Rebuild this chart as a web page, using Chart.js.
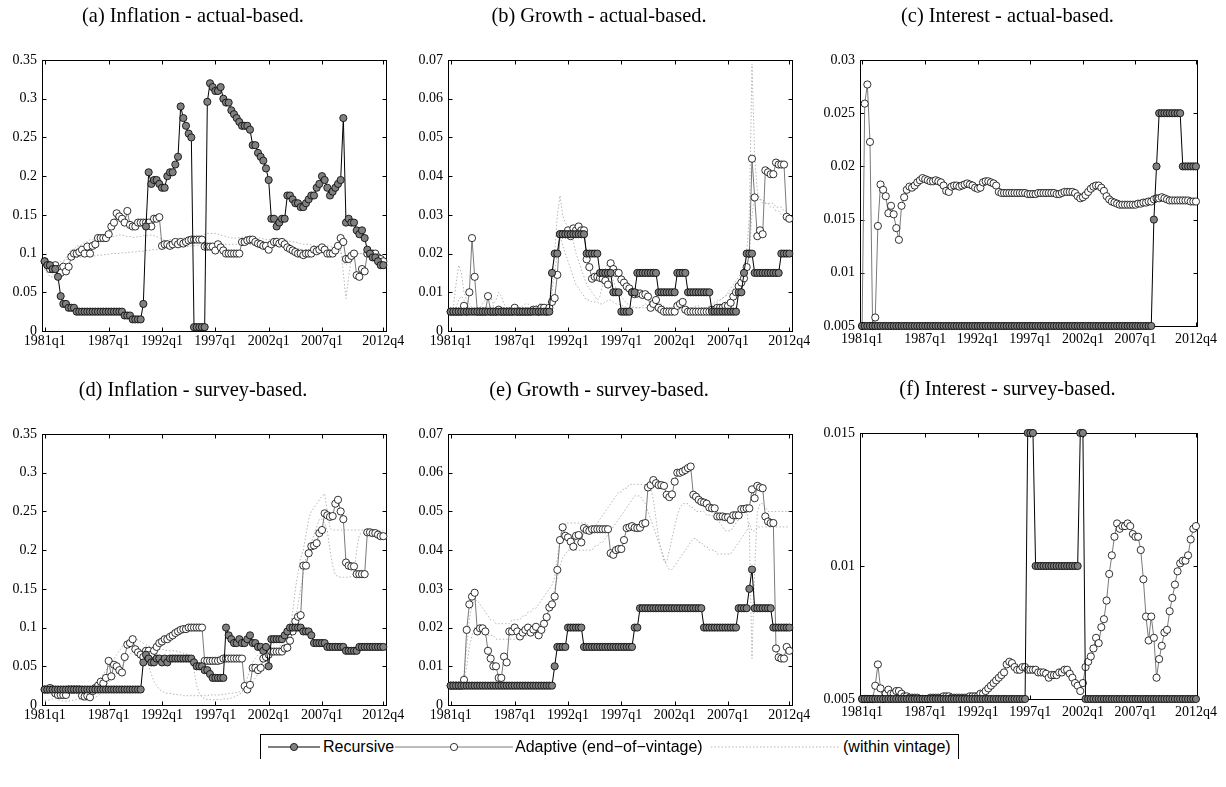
<!DOCTYPE html>
<html>
<head>
<meta charset="utf-8">
<script src="https://cdn.jsdelivr.net/npm/chart.js@4.4.1/dist/chart.umd.min.js"></script>
<style>
  body { margin: 0; background: #fff; width: 1226px; height: 787px; overflow: hidden; position: relative; }
  canvas { position: absolute; }
  #legend { position: absolute; left: 260px; top: 734px; width: 697px; height: 24px;
            border: 1px solid #000; border-bottom: none; font-family: "Liberation Sans", Arial, sans-serif; font-size: 16px; }
  #legend svg, #legend span { position: absolute; }
  #legend svg { top: 2px; }
  #legend span { top: 3px; white-space: nowrap; }
</style>
</head>
<body>
<canvas id="pa"></canvas><canvas id="pb"></canvas><canvas id="pc"></canvas>
<canvas id="pd"></canvas><canvas id="pe"></canvas><canvas id="pf"></canvas>

<div id="legend">
  <svg style="left:7px" width="52" height="20"><line x1="0" y1="10" x2="52" y2="10" stroke="#000"/><circle cx="26" cy="10" r="3.6" fill="#808080" stroke="#000" stroke-width="0.8"/></svg>
  <span style="left:62px">Recursive</span>
  <svg style="left:134px" width="118" height="20"><line x1="0" y1="10" x2="118" y2="10" stroke="#7a7a7a"/><circle cx="59" cy="10" r="3.6" fill="#fff" stroke="#000" stroke-width="0.8"/></svg>
  <span style="left:254px">Adaptive (end&minus;of&minus;vintage)</span>
  <svg style="left:450px" width="128" height="20"><line x1="0" y1="10" x2="128" y2="10" stroke="#b5b5b5" stroke-dasharray="1.5 2"/></svg>
  <span style="left:582px">(within vintage)</span>
</div>

<script>
// quarters 1981q1 .. 2012q4 -> index 0..127
const quarterTicks = [0, 24, 44, 64, 84, 104, 127];
const quarterLabels = ['1981q1', '1987q1', '1992q1', '1997q1', '2002q1', '2007q1', '2012q4'];

const inflTicks = [0, 0.05, 0.1, 0.15, 0.2, 0.25, 0.3, 0.35];
const inflTickLabels = ['0', '0.05', '0.1', '0.15', '0.2', '0.25', '0.3', '0.35'];
const growTicks = [0, 0.01, 0.02, 0.03, 0.04, 0.05, 0.06, 0.07];
const growTickLabels = ['0', '0.01', '0.02', '0.03', '0.04', '0.05', '0.06', '0.07'];
const intActTicks = [0.005, 0.01, 0.015, 0.02, 0.025, 0.03];
const intActTickLabels = ['0.005', '0.01', '0.015', '0.02', '0.025', '0.03'];
const intSurTicks = [0.005, 0.01, 0.015];
const intSurTickLabels = ['0.005', '0.01', '0.015'];

// (a) Inflation - actual-based
const inflActRec = [
  0.09,0.085,0.085,0.08,0.08,0.07,0.045,0.035,0.035,0.03,0.03,0.03,0.025,0.025,0.025,0.025,
  0.025,0.025,0.025,0.025,0.025,0.025,0.025,0.025,0.025,0.025,0.025,0.025,0.025,0.025,0.02,0.02,
  0.02,0.015,0.015,0.015,0.015,0.035,0.135,0.205,0.19,0.195,0.195,0.19,0.185,0.185,0.2,0.205,
  0.205,0.215,0.225,0.29,0.275,0.265,0.255,0.25,0.005,0.005,0.005,0.005,0.005,0.296,0.32,0.315,
  0.31,0.31,0.315,0.3,0.295,0.295,0.285,0.28,0.275,0.27,0.265,0.265,0.265,0.26,0.24,0.24,
  0.23,0.225,0.22,0.21,0.195,0.145,0.145,0.135,0.14,0.145,0.145,0.175,0.175,0.17,0.165,0.165,
  0.16,0.16,0.165,0.17,0.175,0.175,0.185,0.19,0.2,0.195,0.185,0.175,0.18,0.185,0.19,0.195,
  0.275,0.14,0.145,0.14,0.14,0.13,0.125,0.13,0.12,0.105,0.1,0.095,0.095,0.09,0.085,0.085];
const inflActAda = [
  0.09,0.085,0.08,0.08,0.085,0.08,0.075,0.083,0.077,0.083,0.096,0.1,0.1,0.102,0.105,0.1,
  0.109,0.1,0.11,0.112,0.12,0.12,0.12,0.12,0.125,0.135,0.14,0.152,0.148,0.145,0.14,0.155,
  0.137,0.135,0.135,0.14,0.14,0.14,0.14,0.14,0.135,0.145,0.145,0.147,0.11,0.112,0.112,0.11,
  0.112,0.115,0.112,0.115,0.113,0.115,0.117,0.118,0.118,0.118,0.118,0.118,0.109,0.109,0.109,0.109,
  0.104,0.112,0.108,0.104,0.1,0.1,0.1,0.1,0.1,0.1,0.115,0.115,0.117,0.118,0.118,0.115,
  0.113,0.112,0.11,0.11,0.105,0.112,0.115,0.115,0.113,0.115,0.112,0.108,0.106,0.104,0.102,0.1,
  0.1,0.098,0.1,0.1,0.1,0.105,0.103,0.105,0.108,0.105,0.1,0.1,0.1,0.104,0.11,0.12,
  0.115,0.093,0.093,0.097,0.1,0.072,0.07,0.08,0.077,0.1,0.1,0.1,0.1,0.095,0.093,0.09];
const inflActWin1 = [
  0.08,0.075,0.07,0.07,0.075,0.08,0.085,0.09,0.095,0.1,0.105,0.105,0.11,0.11,0.112,0.115,
  0.115,0.118,0.118,0.12,0.12,0.121,0.122,0.122,0.123,0.122,0.122,0.123,0.124,0.124,0.123,0.122,
  0.122,0.121,0.121,0.122,0.122,0.123,0.123,0.124,0.124,0.123,0.122,0.12,0.118,0.117,0.117,0.118,
  0.118,0.118,0.119,0.119,0.12,0.12,0.12,0.121,0.121,0.122,0.123,0.124,0.125,0.126,0.126,0.126,
  0.126,0.125,0.124,0.123,0.122,0.121,0.12,0.12,0.12,0.121,0.121,0.122,0.122,0.121,0.12,0.12,
  0.12,0.12,0.119,0.118,0.118,0.119,0.12,0.12,0.12,0.119,0.118,0.117,0.116,0.115,0.115,0.114,
  0.113,0.112,0.112,0.112,0.111,0.11,0.11,0.11,0.11,0.11,0.11,0.11,0.108,0.108,0.107,0.105,
  0.075,0.042,0.07,0.095,0.1,0.1,0.1,0.1,0.098,0.098,0.097,0.096,0.096,0.095,0.095,0.094];
const inflActWin2 = [
  0.085,0.08,0.075,0.08,0.085,0.088,0.09,0.09,0.092,0.093,0.094,0.095,0.095,0.095,0.096,0.096,
  0.097,0.097,0.097,0.097,0.098,0.098,0.098,0.099,0.099,0.1,0.1,0.1,0.1,0.101,0.101,0.101,
  0.102,0.102,0.102,0.103,0.103,0.103,0.104,0.104,0.105,0.105,0.105,0.106,0.106,0.106,0.107,0.107,
  0.107,0.108,0.108,0.108,0.109,0.109,0.109,0.11,0.11,0.11,0.111,0.111,0.111,0.112,0.112,0.112,
  0.112,0.112,0.112,0.112,0.112,0.112,0.112,0.112,0.112,0.112,0.112,0.112,0.112,0.112,0.111,0.111,
  0.111,0.111,0.11,0.11,0.11,0.11,0.11,0.11,0.11,0.109,0.109,0.108,0.108,0.107,0.107,0.106,
  0.106,0.105,0.105,0.105,0.104,0.104,0.104,0.104,0.104,0.104,0.105,0.105,0.105,0.105,0.105,0.104,
  0.09,0.085,0.09,0.095,0.1,0.1,0.1,0.1,0.097,0.097,0.096,0.095,0.094,0.093,0.092,0.092];

// (b) Growth - actual-based
const growActRec = [
  0.005,0.005,0.005,0.005,0.005,0.005,0.005,0.005,0.005,0.005,0.005,0.005,0.005,0.005,0.005,0.005,
  0.005,0.005,0.005,0.005,0.005,0.005,0.005,0.005,0.005,0.005,0.005,0.005,0.005,0.005,0.005,0.005,
  0.005,0.005,0.005,0.005,0.005,0.005,0.015,0.02,0.02,0.025,0.025,0.025,0.025,0.025,0.025,0.025,
  0.025,0.025,0.025,0.02,0.02,0.02,0.02,0.02,0.015,0.015,0.015,0.015,0.015,0.01,0.01,0.01,
  0.005,0.005,0.005,0.005,0.01,0.01,0.015,0.015,0.015,0.015,0.015,0.015,0.015,0.015,0.01,0.01,
  0.01,0.01,0.01,0.01,0.01,0.015,0.015,0.015,0.015,0.01,0.01,0.01,0.01,0.01,0.01,0.01,
  0.01,0.01,0.005,0.005,0.005,0.005,0.005,0.005,0.005,0.005,0.005,0.005,0.01,0.01,0.015,0.02,
  0.02,0.02,0.015,0.015,0.015,0.015,0.015,0.015,0.015,0.015,0.015,0.015,0.02,0.02,0.02,0.02];
const growActAda = [
  0.005,0.005,0.005,0.005,0.005,0.0065,0.005,0.01,0.024,0.014,0.005,0.005,0.005,0.005,0.009,0.005,
  0.005,0.005,0.0055,0.005,0.005,0.005,0.005,0.005,0.006,0.005,0.005,0.005,0.005,0.005,0.005,0.0055,
  0.0055,0.005,0.006,0.006,0.005,0.006,0.0075,0.0085,0.0145,0.025,0.025,0.025,0.026,0.0245,0.0265,0.026,
  0.027,0.026,0.026,0.0185,0.0165,0.0135,0.014,0.014,0.0137,0.0135,0.013,0.012,0.0175,0.016,0.015,0.015,
  0.0133,0.0125,0.0115,0.011,0.01,0.0095,0.0097,0.0097,0.0093,0.0095,0.0089,0.006,0.007,0.008,0.006,0.0055,
  0.005,0.005,0.005,0.005,0.005,0.0065,0.007,0.0075,0.0055,0.005,0.005,0.005,0.005,0.005,0.005,0.005,
  0.005,0.005,0.0055,0.0055,0.006,0.006,0.006,0.0065,0.0065,0.0073,0.0089,0.01,0.0116,0.0125,0.0136,0.0165,
  0.02,0.0445,0.0345,0.0245,0.026,0.025,0.0415,0.041,0.0405,0.0405,0.0435,0.043,0.043,0.043,0.0295,0.029];
const growActWin1 = [
  0.005,0.006,0.012,0.017,0.015,0.01,0.008,0.007,0.006,0.006,0.006,0.006,0.007,0.008,0.01,0.009,
  0.007,0.008,0.01,0.009,0.007,0.006,0.006,0.006,0.0065,0.006,0.006,0.0065,0.007,0.007,0.0065,0.006,
  0.0065,0.007,0.007,0.0065,0.007,0.008,0.012,0.02,0.03,0.035,0.03,0.028,0.027,0.025,0.023,0.02,
  0.018,0.016,0.014,0.012,0.011,0.01,0.009,0.008,0.009,0.012,0.016,0.018,0.016,0.013,0.011,0.01,
  0.009,0.008,0.007,0.007,0.0065,0.006,0.006,0.006,0.0065,0.007,0.0065,0.006,0.006,0.0065,0.007,0.007,
  0.0065,0.006,0.006,0.006,0.0065,0.007,0.007,0.0065,0.006,0.006,0.006,0.006,0.0065,0.0065,0.006,0.006,
  0.006,0.006,0.0065,0.007,0.0075,0.008,0.0085,0.009,0.01,0.011,0.012,0.013,0.014,0.015,0.017,0.02,
  0.03,0.069,0.045,0.036,0.034,0.034,0.033,0.033,0.033,0.033,0.032,0.032,0.032,0.031,0.031,0.03];
const growActWin2 = [
  0.005,0.005,0.006,0.008,0.009,0.008,0.007,0.006,0.0055,0.0055,0.0055,0.006,0.006,0.006,0.0065,0.0065,
  0.0065,0.006,0.006,0.006,0.006,0.0055,0.0055,0.0055,0.0055,0.0055,0.0055,0.006,0.006,0.006,0.006,0.006,
  0.006,0.006,0.006,0.006,0.0065,0.007,0.01,0.015,0.02,0.025,0.022,0.02,0.018,0.016,0.014,0.012,
  0.011,0.01,0.009,0.008,0.008,0.0075,0.0075,0.0075,0.007,0.007,0.0075,0.008,0.008,0.0075,0.007,0.007,
  0.0065,0.0065,0.006,0.006,0.006,0.006,0.006,0.006,0.006,0.006,0.006,0.006,0.006,0.006,0.006,0.006,
  0.006,0.006,0.006,0.006,0.006,0.006,0.006,0.006,0.006,0.006,0.006,0.006,0.006,0.006,0.006,0.006,
  0.006,0.0065,0.007,0.0075,0.008,0.008,0.0085,0.009,0.0095,0.01,0.011,0.012,0.013,0.014,0.015,0.016,
  0.02,0.03,0.035,0.034,0.034,0.033,0.033,0.033,0.032,0.032,0.031,0.031,0.03,0.03,0.03,0.03];

// (c) Interest - actual-based
const intActRec = [
  0.005,0.005,0.005,0.005,0.005,0.005,0.005,0.005,0.005,0.005,0.005,0.005,0.005,0.005,0.005,0.005,
  0.005,0.005,0.005,0.005,0.005,0.005,0.005,0.005,0.005,0.005,0.005,0.005,0.005,0.005,0.005,0.005,
  0.005,0.005,0.005,0.005,0.005,0.005,0.005,0.005,0.005,0.005,0.005,0.005,0.005,0.005,0.005,0.005,
  0.005,0.005,0.005,0.005,0.005,0.005,0.005,0.005,0.005,0.005,0.005,0.005,0.005,0.005,0.005,0.005,
  0.005,0.005,0.005,0.005,0.005,0.005,0.005,0.005,0.005,0.005,0.005,0.005,0.005,0.005,0.005,0.005,
  0.005,0.005,0.005,0.005,0.005,0.005,0.005,0.005,0.005,0.005,0.005,0.005,0.005,0.005,0.005,0.005,
  0.005,0.005,0.005,0.005,0.005,0.005,0.005,0.005,0.005,0.005,0.005,0.005,0.005,0.005,0.005,0.015,
  0.02,0.025,0.025,0.025,0.025,0.025,0.025,0.025,0.025,0.025,0.02,0.02,0.02,0.02,0.02,0.02];
const intActAda = [
  0.005,0.0259,0.0277,0.0223,0.005,0.0058,0.0144,0.0183,0.0178,0.0172,0.0156,0.0163,0.0155,0.0142,0.0131,0.0163,
  0.0171,0.0178,0.0181,0.018,0.0182,0.0185,0.0187,0.0189,0.0188,0.0187,0.0186,0.0186,0.0187,0.0186,0.0185,0.0182,
  0.0177,0.0176,0.0181,0.0182,0.0182,0.0181,0.0182,0.0183,0.0184,0.0183,0.0182,0.018,0.0179,0.018,0.0185,0.0186,
  0.0186,0.0185,0.0184,0.0182,0.0176,0.0175,0.0175,0.0175,0.0175,0.0175,0.0175,0.0175,0.0175,0.0175,0.0175,0.0174,
  0.0174,0.0174,0.0174,0.0175,0.0175,0.0175,0.0175,0.0175,0.0175,0.0175,0.0174,0.0174,0.0175,0.0176,0.0176,0.0176,
  0.0176,0.0175,0.0172,0.017,0.0171,0.0173,0.0176,0.0179,0.0181,0.0182,0.0182,0.018,0.0177,0.0172,0.0169,0.0167,
  0.0166,0.0165,0.0164,0.0164,0.0164,0.0164,0.0164,0.0164,0.0164,0.0165,0.0165,0.0166,0.0166,0.0167,0.0167,0.0169,
  0.017,0.017,0.0171,0.017,0.0169,0.0168,0.0168,0.0168,0.0168,0.0168,0.0168,0.0168,0.0168,0.0167,0.0167,0.0167];

// (d) Inflation - survey-based
const inflSurRec = [
  0.02,0.02,0.02,0.02,0.02,0.02,0.02,0.02,0.02,0.02,0.02,0.02,0.02,0.02,0.02,0.02,
  0.02,0.02,0.02,0.02,0.02,0.02,0.02,0.02,0.02,0.02,0.02,0.02,0.02,0.02,0.02,0.02,
  0.02,0.02,0.02,0.02,0.02,0.055,0.065,0.06,0.055,0.055,0.06,0.06,0.055,0.06,0.055,0.06,
  0.06,0.06,0.06,0.06,0.06,0.06,0.06,0.06,0.055,0.05,0.05,0.05,0.045,0.045,0.04,0.035,
  0.035,0.035,0.035,0.035,0.1,0.09,0.085,0.08,0.08,0.085,0.08,0.08,0.085,0.09,0.08,0.08,
  0.075,0.075,0.07,0.075,0.05,0.085,0.085,0.085,0.085,0.085,0.09,0.095,0.1,0.1,0.1,0.1,
  0.1,0.095,0.095,0.095,0.09,0.08,0.08,0.08,0.08,0.08,0.075,0.075,0.075,0.075,0.075,0.075,
  0.075,0.07,0.07,0.07,0.07,0.07,0.075,0.075,0.075,0.075,0.075,0.075,0.075,0.075,0.075,0.075];
const inflSurAda = [
  0.02,0.02,0.022,0.02,0.015,0.013,0.013,0.013,0.013,0.02,0.02,0.02,0.02,0.02,0.012,0.011,
  0.012,0.01,0.018,0.022,0.025,0.03,0.028,0.035,0.057,0.037,0.052,0.05,0.045,0.042,0.062,0.078,
  0.08,0.085,0.072,0.068,0.065,0.062,0.07,0.07,0.065,0.07,0.075,0.08,0.082,0.085,0.085,0.088,
  0.09,0.093,0.095,0.097,0.098,0.098,0.1,0.1,0.1,0.1,0.1,0.1,0.057,0.057,0.057,0.057,
  0.057,0.057,0.058,0.06,0.06,0.06,0.06,0.06,0.06,0.06,0.06,0.0245,0.02,0.026,0.048,0.048,
  0.045,0.048,0.06,0.062,0.065,0.069,0.069,0.069,0.069,0.069,0.073,0.074,0.083,0.095,0.108,0.114,
  0.116,0.18,0.18,0.196,0.205,0.206,0.209,0.222,0.226,0.2475,0.245,0.243,0.244,0.26,0.265,0.25,
  0.24,0.184,0.18,0.179,0.179,0.169,0.169,0.169,0.169,0.223,0.223,0.222,0.222,0.22,0.218,0.218];
const inflSurWin1 = [
  0.015,0.015,0.014,0.013,0.012,0.012,0.012,0.013,0.014,0.015,0.015,0.015,0.016,0.016,0.015,0.015,
  0.016,0.018,0.02,0.025,0.03,0.035,0.04,0.045,0.05,0.055,0.06,0.065,0.07,0.075,0.08,0.082,
  0.084,0.085,0.085,0.084,0.082,0.08,0.078,0.076,0.075,0.074,0.073,0.072,0.072,0.071,0.07,0.07,
  0.07,0.07,0.069,0.068,0.067,0.066,0.065,0.06,0.045,0.025,0.015,0.01,0.008,0.007,0.007,0.007,
  0.007,0.007,0.007,0.008,0.008,0.008,0.009,0.01,0.012,0.014,0.016,0.025,0.035,0.045,0.055,0.06,
  0.065,0.068,0.07,0.072,0.075,0.078,0.08,0.083,0.086,0.09,0.093,0.096,0.1,0.12,0.15,0.17,
  0.19,0.2,0.22,0.24,0.25,0.255,0.26,0.265,0.27,0.273,0.25,0.228,0.226,0.226,0.226,0.226,
  0.226,0.226,0.226,0.226,0.226,0.226,0.226,0.226,0.225,0.225,0.225,0.225,0.225,0.225,0.225,0.225];
const inflSurWin2 = [
  0.006,0.006,0.007,0.008,0.008,0.007,0.006,0.005,0.005,0.005,0.006,0.006,0.007,0.007,0.006,0.006,
  0.006,0.007,0.008,0.01,0.012,0.015,0.02,0.025,0.03,0.032,0.035,0.04,0.045,0.05,0.055,0.06,
  0.065,0.07,0.072,0.07,0.068,0.065,0.06,0.05,0.04,0.03,0.025,0.02,0.018,0.016,0.015,0.015,
  0.014,0.014,0.013,0.013,0.012,0.012,0.012,0.012,0.012,0.012,0.012,0.012,0.012,0.012,0.013,0.013,
  0.013,0.013,0.013,0.014,0.014,0.015,0.015,0.016,0.016,0.017,0.018,0.02,0.022,0.025,0.03,0.035,
  0.04,0.045,0.05,0.055,0.06,0.065,0.068,0.07,0.075,0.08,0.085,0.09,0.095,0.1,0.11,0.13,
  0.15,0.17,0.19,0.2,0.21,0.22,0.23,0.24,0.24,0.235,0.225,0.2,0.18,0.168,0.166,0.165,
  0.165,0.165,0.165,0.166,0.17,0.2,0.22,0.222,0.222,0.222,0.222,0.222,0.222,0.222,0.222,0.222];

// (e) Growth - survey-based
const growSurRec = [
  0.005,0.005,0.005,0.005,0.005,0.005,0.005,0.005,0.005,0.005,0.005,0.005,0.005,0.005,0.005,0.005,
  0.005,0.005,0.005,0.005,0.005,0.005,0.005,0.005,0.005,0.005,0.005,0.005,0.005,0.005,0.005,0.005,
  0.005,0.005,0.005,0.005,0.005,0.005,0.005,0.01,0.015,0.015,0.015,0.015,0.02,0.02,0.02,0.02,
  0.02,0.02,0.015,0.015,0.015,0.015,0.015,0.015,0.015,0.015,0.015,0.015,0.015,0.015,0.015,0.015,
  0.015,0.015,0.015,0.015,0.015,0.02,0.02,0.025,0.025,0.025,0.025,0.025,0.025,0.025,0.025,0.025,
  0.025,0.025,0.025,0.025,0.025,0.025,0.025,0.025,0.025,0.025,0.025,0.025,0.025,0.025,0.025,0.02,
  0.02,0.02,0.02,0.02,0.02,0.02,0.02,0.02,0.02,0.02,0.02,0.02,0.025,0.025,0.025,0.025,
  0.03,0.035,0.025,0.025,0.025,0.025,0.025,0.025,0.025,0.02,0.02,0.02,0.02,0.02,0.02,0.02];
const growSurAda = [
  0.005,0.005,0.005,0.005,0.005,0.0065,0.0194,0.026,0.028,0.029,0.019,0.0198,0.0198,0.019,0.014,0.012,
  0.01,0.01,0.007,0.007,0.0125,0.011,0.019,0.019,0.02,0.019,0.0177,0.0187,0.0194,0.02,0.0187,0.0195,
  0.0202,0.018,0.0194,0.021,0.0227,0.0252,0.026,0.028,0.0349,0.0426,0.0459,0.0437,0.0433,0.0422,0.0409,0.0437,
  0.0439,0.042,0.0457,0.0452,0.045,0.0454,0.0454,0.0454,0.0454,0.0454,0.0454,0.0454,0.0392,0.0388,0.04,0.0403,
  0.0403,0.0426,0.0457,0.0459,0.0462,0.0458,0.0457,0.0458,0.0468,0.047,0.0562,0.0568,0.0581,0.0573,0.0568,0.0568,
  0.0566,0.0543,0.0537,0.0544,0.0577,0.06,0.06,0.0603,0.0607,0.0612,0.0616,0.0543,0.0538,0.053,0.0525,0.0523,
  0.052,0.051,0.0508,0.0508,0.0487,0.0487,0.0487,0.0485,0.0485,0.0478,0.049,0.049,0.049,0.0506,0.0506,0.0508,
  0.0508,0.0557,0.0534,0.0566,0.0562,0.056,0.0487,0.0474,0.047,0.047,0.0146,0.0123,0.012,0.012,0.015,0.014];
const growSurWin1 = [
  0.005,0.005,0.005,0.005,0.005,0.008,0.015,0.022,0.026,0.027,0.027,0.026,0.025,0.024,0.023,0.022,
  0.022,0.021,0.021,0.021,0.021,0.021,0.021,0.022,0.022,0.022,0.022,0.023,0.023,0.024,0.024,0.025,
  0.025,0.026,0.027,0.028,0.029,0.03,0.031,0.033,0.038,0.043,0.046,0.047,0.047,0.047,0.047,0.047,
  0.047,0.047,0.047,0.047,0.046,0.046,0.046,0.047,0.048,0.049,0.05,0.051,0.052,0.053,0.054,0.055,
  0.055,0.056,0.056,0.057,0.057,0.057,0.057,0.057,0.057,0.057,0.057,0.056,0.053,0.048,0.043,0.04,
  0.037,0.037,0.04,0.043,0.046,0.049,0.051,0.052,0.052,0.052,0.051,0.051,0.05,0.05,0.05,0.05,
  0.049,0.049,0.049,0.048,0.048,0.047,0.046,0.045,0.045,0.045,0.046,0.047,0.048,0.049,0.05,0.05,
  0.045,0.012,0.035,0.05,0.052,0.052,0.051,0.05,0.05,0.05,0.05,0.05,0.05,0.05,0.05,0.05];
const growSurWin2 = [
  0.005,0.005,0.005,0.005,0.005,0.006,0.01,0.015,0.018,0.02,0.02,0.02,0.019,0.019,0.018,0.018,
  0.018,0.017,0.017,0.017,0.017,0.017,0.017,0.017,0.017,0.017,0.018,0.018,0.018,0.018,0.019,0.019,
  0.02,0.02,0.021,0.022,0.023,0.025,0.027,0.03,0.033,0.036,0.038,0.039,0.04,0.04,0.04,0.04,
  0.04,0.04,0.04,0.04,0.04,0.04,0.041,0.041,0.042,0.042,0.043,0.044,0.045,0.046,0.047,0.048,
  0.049,0.05,0.051,0.052,0.053,0.054,0.054,0.054,0.053,0.052,0.05,0.048,0.046,0.044,0.042,0.04,
  0.038,0.036,0.035,0.035,0.036,0.037,0.038,0.039,0.04,0.041,0.042,0.043,0.043,0.042,0.042,0.041,
  0.041,0.04,0.04,0.04,0.039,0.039,0.039,0.039,0.039,0.039,0.04,0.041,0.042,0.043,0.044,0.045,
  0.047,0.045,0.045,0.046,0.046,0.046,0.046,0.046,0.046,0.046,0.046,0.046,0.046,0.046,0.046,0.046];

// (f) Interest - survey-based
const intSurRec = [
  0.005,0.005,0.005,0.005,0.005,0.005,0.005,0.005,0.005,0.005,0.005,0.005,0.005,0.005,0.005,0.005,
  0.005,0.005,0.005,0.005,0.005,0.005,0.005,0.005,0.005,0.005,0.005,0.005,0.005,0.005,0.005,0.005,
  0.005,0.005,0.005,0.005,0.005,0.005,0.005,0.005,0.005,0.005,0.005,0.005,0.005,0.005,0.005,0.005,
  0.005,0.005,0.005,0.005,0.005,0.005,0.005,0.005,0.005,0.005,0.005,0.005,0.005,0.005,0.005,0.015,
  0.015,0.015,0.01,0.01,0.01,0.01,0.01,0.01,0.01,0.01,0.01,0.01,0.01,0.01,0.01,0.01,
  0.01,0.01,0.01,0.015,0.015,0.005,0.005,0.005,0.005,0.005,0.005,0.005,0.005,0.005,0.005,0.005,
  0.005,0.005,0.005,0.005,0.005,0.005,0.005,0.005,0.005,0.005,0.005,0.005,0.005,0.005,0.005,0.005,
  0.005,0.005,0.005,0.005,0.005,0.005,0.005,0.005,0.005,0.005,0.005,0.005,0.005,0.005,0.005,0.005];
const intSurAda = [
  0.005,0.005,0.005,0.005,0.005,0.0055,0.0063,0.0054,0.005,0.0052,0.00535,0.0052,0.0052,0.0053,0.0053,0.0052,
  0.0051,0.0051,0.00505,0.00505,0.00505,0.00505,0.005,0.005,0.005,0.005,0.00505,0.00505,0.00505,0.00505,0.00505,0.0051,
  0.0051,0.0051,0.00505,0.00505,0.00505,0.00505,0.00505,0.00505,0.00505,0.0051,0.0051,0.0051,0.0051,0.0052,0.0052,0.0053,
  0.0054,0.0055,0.0056,0.0057,0.0058,0.0059,0.006,0.0063,0.0064,0.00635,0.0062,0.0061,0.0061,0.0062,0.0062,0.0061,
  0.0061,0.0061,0.0061,0.006,0.006,0.006,0.00595,0.0058,0.0059,0.0059,0.0059,0.006,0.006,0.0061,0.0061,0.00595,
  0.0058,0.0056,0.0055,0.0053,0.0056,0.0062,0.0064,0.0066,0.0069,0.0073,0.0071,0.0077,0.008,0.0087,0.0097,0.0104,
  0.0111,0.0116,0.0114,0.0115,0.0115,0.0116,0.0115,0.0112,0.0111,0.0111,0.0106,0.0095,0.0081,0.0072,0.0081,0.0073,
  0.0058,0.0065,0.007,0.0075,0.0076,0.0083,0.0088,0.0093,0.0098,0.0101,0.0102,0.0102,0.0104,0.011,0.0114,0.0115];

const SERIF = '"Liberation Serif", "Times New Roman", serif';
const AXW = 42, TOPH = 60, XAXH = 26, PADR = 30, TICK = 4, TITLE_SIZE = 20.4;

// box round the plot with inward ticks on all four sides
const framePlugin = {
  id: 'frame',
  beforeDatasetsDraw(chart) {
    const {ctx, chartArea: a, scales: {x, y}} = chart;
    ctx.save();
    ctx.strokeStyle = '#000';
    ctx.lineWidth = 1;
    const l = Math.round(a.left) + 0.5, r = Math.round(a.right) + 0.5;
    const t = Math.round(a.top) + 0.5, b = Math.round(a.bottom) + 0.5;
    ctx.strokeRect(l, t, r - l, b - t);
    ctx.beginPath();
    x.ticks.forEach(tk => {
      const p = Math.round(x.getPixelForValue(tk.value)) + 0.5;
      ctx.moveTo(p, b); ctx.lineTo(p, b - TICK);
      ctx.moveTo(p, t); ctx.lineTo(p, t + TICK);
    });
    y.ticks.forEach(tk => {
      const p = Math.round(y.getPixelForValue(tk.value)) + 0.5;
      ctx.moveTo(l, p); ctx.lineTo(l + TICK, p);
      ctx.moveTo(r, p); ctx.lineTo(r - TICK, p);
    });
    ctx.stroke();
    ctx.restore();
  }
};

const pts = arr => arr.map((v, i) => ({x: i, y: v}));

function recursive(arr) {
  return {label: 'Recursive', data: pts(arr), borderColor: '#000', borderWidth: 1,
    pointRadius: 3.6, pointBackgroundColor: '#808080', pointBorderColor: '#000', pointBorderWidth: 0.8, clip: false};
}
function adaptive(arr) {
  return {label: 'Adaptive (end\u2212of\u2212vintage)', data: pts(arr), borderColor: '#7a7a7a', borderWidth: 1,
    pointRadius: 3.6, pointBackgroundColor: '#fff', pointBorderColor: '#000', pointBorderWidth: 0.8, clip: false};
}
function within(arr) {
  return {label: '(within vintage)', data: pts(arr), borderColor: '#b5b5b5', borderWidth: 1,
    borderDash: [1.5, 2], pointRadius: 0, clip: false};
}

function panel(id, g, title, xr, yTicks, yLabels, sets, xPad) {
  const cv = document.getElementById(id);
  cv.width = g.R - g.L + AXW + PADR;
  cv.height = g.B - g.T + TOPH + XAXH;
  cv.style.left = (g.L - AXW) + 'px';
  cv.style.top = (g.T - TOPH) + 'px';
  new Chart(cv, {
    type: 'line',
    data: {datasets: sets},
    options: {
      responsive: false, animation: false, events: [],
      layout: {padding: {left: 0, right: PADR, top: 0, bottom: 0}},
      plugins: {
        legend: {display: false}, tooltip: {enabled: false},
        title: {display: true, text: title, color: '#000',
          font: {family: SERIF, size: TITLE_SIZE, weight: 'normal'},
          padding: {top: 4, bottom: TOPH - 4 - TITLE_SIZE * 1.2}}
      },
      scales: {
        x: {type: 'linear', min: xr[0], max: xr[1],
          grid: {display: false, drawTicks: false}, border: {display: false},
          afterBuildTicks: s => { s.ticks = quarterTicks.map(v => ({value: v})); },
          afterFit: s => { s.height = XAXH; },
          ticks: {autoSkip: false, maxRotation: 0, minRotation: 0, padding: xPad, color: '#000',
            font: {family: SERIF, size: 14}, callback: (v, i) => quarterLabels[i]}},
        y: {type: 'linear', min: yTicks[0], max: yTicks[yTicks.length - 1],
          grid: {display: false, drawTicks: false}, border: {display: false},
          afterBuildTicks: s => { s.ticks = yTicks.map(v => ({value: v})); },
          afterFit: s => { s.width = AXW; },
          ticks: {padding: 5, color: '#000', font: {family: SERIF, size: 14},
            callback: (v, i) => yLabels[i]}}
      }
    },
    plugins: [framePlugin]
  });
}

panel('pa', {L: 42, R: 386, T: 60, B: 331}, '(a) Inflation - actual-based.', [-1, 128],
  inflTicks, inflTickLabels,
  [recursive(inflActRec), adaptive(inflActAda), within(inflActWin1), within(inflActWin2)], 2);
panel('pb', {L: 448, R: 792, T: 60, B: 331}, '(b) Growth - actual-based.', [-1, 128],
  growTicks, growTickLabels,
  [recursive(growActRec), adaptive(growActAda), within(growActWin1), within(growActWin2)], 2);
panel('pc', {L: 860, R: 1197, T: 60, B: 326}, '(c) Interest - actual-based.', [-0.8, 127.4],
  intActTicks, intActTickLabels,
  [recursive(intActRec), adaptive(intActAda)], 5);
panel('pd', {L: 42, R: 386, T: 434, B: 705}, '(d) Inflation - survey-based.', [-1, 128],
  inflTicks, inflTickLabels,
  [recursive(inflSurRec), adaptive(inflSurAda), within(inflSurWin1), within(inflSurWin2)], 2);
panel('pe', {L: 448, R: 792, T: 434, B: 705}, '(e) Growth - survey-based.', [-1, 128],
  growTicks, growTickLabels,
  [recursive(growSurRec), adaptive(growSurAda), within(growSurWin1), within(growSurWin2)], 2);
panel('pf', {L: 860, R: 1197, T: 433, B: 699}, '(f) Interest - survey-based.', [-0.8, 127.4],
  intSurTicks, intSurTickLabels,
  [recursive(intSurRec), adaptive(intSurAda)], 5);
</script>
</body>
</html>
